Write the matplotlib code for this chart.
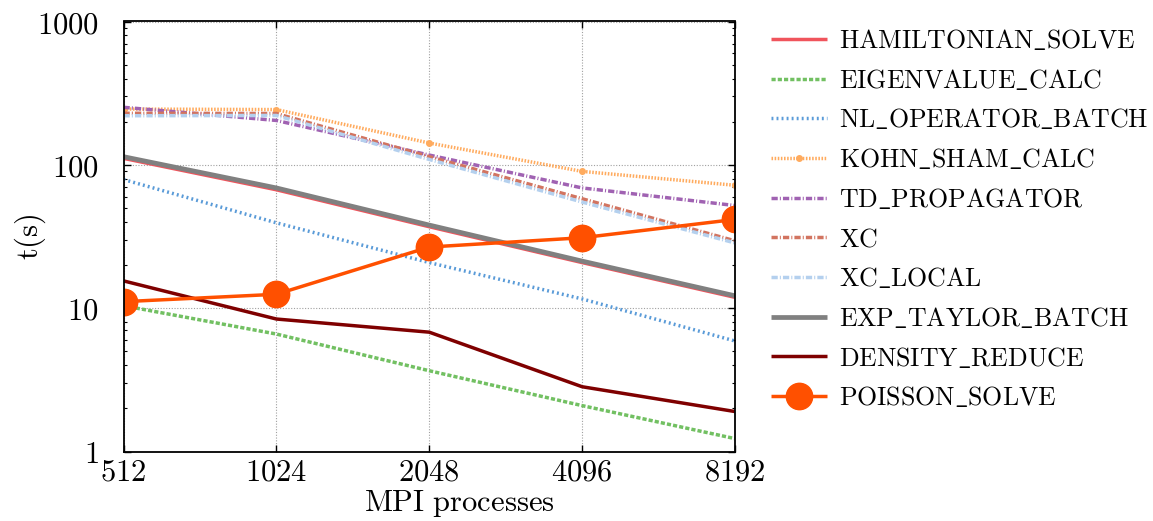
import matplotlib
matplotlib.use("Agg")
import matplotlib.pyplot as plt
from matplotlib.ticker import FixedLocator, FixedFormatter, NullFormatter

plt.rcParams["mathtext.fontset"] = "cm"

procs = [512, 1024, 2048, 4096, 8192]

hamiltonian_solve = [111, 67, 37, 20.8, 11.9]
eigenvalue_calc = [10.4, 6.6, 3.66, 2.09, 1.23]
nl_operator_batch = [79, 39.4, 20.8, 11.6, 5.9]
kohn_sham_calc = [245, 243, 142, 90, 72]
td_propagator = [252, 204, 117, 69, 52]
xc = [229, 228, 114, 58, 29.5]
xc_local = [220, 221, 109, 55, 28.5]
exp_taylor_batch = [114, 69, 38, 21.3, 12.2]
density_reduce = [15.5, 8.4, 6.8, 2.83, 1.9]
poisson_solve = [11.1, 12.5, 26.7, 31.0, 41.6]

y_ticks = [1, 10, 100, 1000]
y_labels = ["1", "10", "100", "1000"]
x_labels = ["512", "1024", "2048", "4096", "8192"]


def m(s):
    return r"$\mathrm{" + s.replace("_", r"\_").replace(" ", r"\ ") + "}$"


W, H = 1153, 521
fig = plt.figure(figsize=(W / 100, H / 100), dpi=100)
ax = fig.add_axes([123.5 / W, (H - 451.5) / H, 611.5 / W, 430 / H])
ax.set_xscale("log", base=2)
ax.set_yscale("log")

lw = 2.5
dd = (1.8, 0.6, 0.3, 0.6)
series = [
    ("HAMILTONIAN_SOLVE", hamiltonian_solve, dict(color="#f0545c", lw=lw)),
    ("EIGENVALUE_CALC", eigenvalue_calc, dict(color="#72c062", lw=lw, dashes=(1.2, 0.6))),
    ("NL_OPERATOR_BATCH", nl_operator_batch, dict(color="#5a9bd8", lw=lw, dashes=(0.55, 0.9))),
    ("KOHN_SHAM_CALC", kohn_sham_calc, dict(color="#ffab5e", lw=lw, dashes=(0.45, 0.45),
                                            marker="o", markersize=4)),
    ("TD_PROPAGATOR", td_propagator, dict(color="#a062b2", lw=lw, dashes=dd)),
    ("XC", xc, dict(color="#d27460", lw=lw, dashes=dd)),
    ("XC_LOCAL", xc_local, dict(color="#b4d0ee", lw=lw, dashes=dd)),
    ("EXP_TAYLOR_BATCH", exp_taylor_batch, dict(color="#808080", lw=3.4)),
    ("DENSITY_REDUCE", density_reduce, dict(color="#7f0000", lw=lw)),
    ("POISSON_SOLVE", poisson_solve, dict(color="#ff5000", lw=lw, marker="o", markersize=19)),
]

handles = []
for name, vals, style in series:
    (h,) = ax.plot(procs, vals, label=m(name), solid_capstyle="butt",
                   dash_capstyle="butt", **style)
    handles.append(h)

ax.set_xlim(512, 8192)
ax.set_ylim(1, 1000)

ax.xaxis.set_major_locator(FixedLocator(procs))
ax.xaxis.set_major_formatter(FixedFormatter([m(s) for s in x_labels]))
ax.xaxis.set_minor_locator(FixedLocator([]))
ax.yaxis.set_major_locator(FixedLocator(y_ticks))
ax.yaxis.set_major_formatter(FixedFormatter([m(s) for s in y_labels]))
ax.yaxis.set_minor_formatter(NullFormatter())

fs = 22
ax.tick_params(axis="both", which="both", direction="in", top=True, right=True,
               labelsize=fs)
ax.tick_params(axis="both", which="major", length=5, width=1)
ax.tick_params(axis="y", which="minor", length=2.5, width=0.8)
ax.tick_params(axis="y", which="major", pad=18)
ax.tick_params(axis="x", which="major", pad=4)

ax.grid(True, which="major", color="#a0a0a0", linestyle=(0, (1, 1.5)), lw=0.8)
for s in ax.spines.values():
    s.set_linewidth(1.3)

ax.set_xlabel(m("MPI processes"), fontsize=fs)
ax.xaxis.set_label_coords((459.5 - 123.5) / 611.5, (451.5 - 488) / 430)
ax.set_ylabel(m("t(s)"), fontsize=fs, va="center")
ax.yaxis.set_label_coords((30 - 123.5) / 611.5, 0.5)

fig.legend(handles=handles, loc="upper left",
           bbox_to_anchor=(771 / W, (H - 28) / H), frameon=False,
           fontsize=18.6, handlelength=2.15, handletextpad=0.47,
           labelspacing=0.53, numpoints=1, borderaxespad=0, borderpad=0)

fig.savefig("out.png", dpi=100)
